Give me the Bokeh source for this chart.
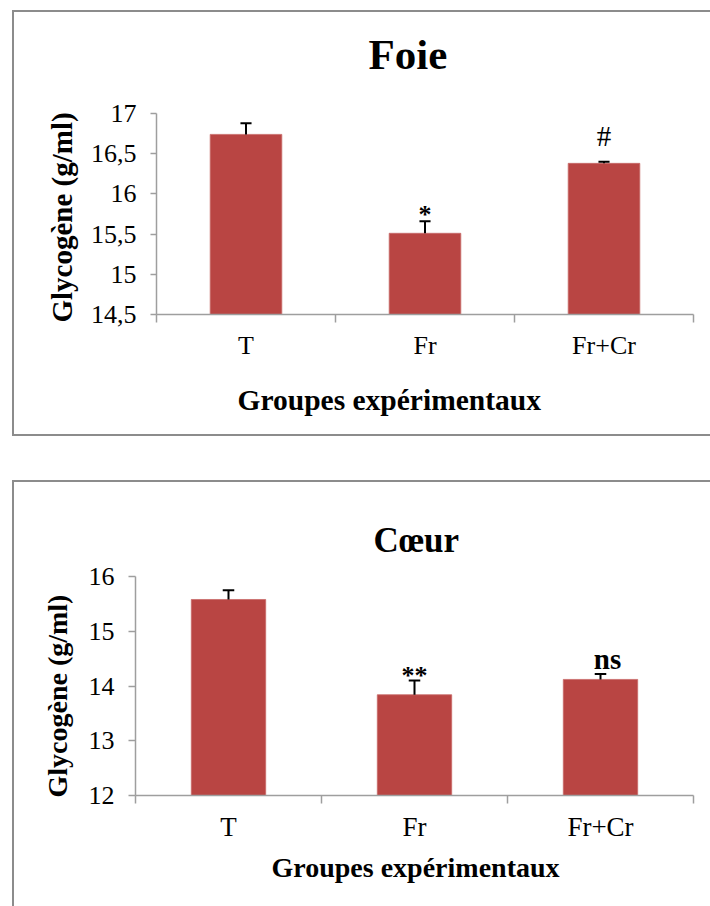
from bokeh.plotting import figure
from bokeh.models import Range1d, FixedTicker, Title
from bokeh.embed import file_html
from bokeh.resources import INLINE

# ---------------- data ----------------
groups = ["T", "Fr", "Fr+Cr"]

foie_values = [16.74, 15.51, 16.38]
foie_errors = [0.14, 0.15, 0.02]
foie_marks = ["", "*", "#"]
foie_ticks = [14.5, 15, 15.5, 16, 16.5, 17]
foie_tick_labels = ["14,5", "15", "15,5", "16", "16,5", "17"]

coeur_values = [15.58, 13.84, 14.12]
coeur_errors = [0.17, 0.26, 0.10]
coeur_marks = ["", "**", "ns"]
coeur_ticks = [12, 13, 14, 15, 16]
coeur_tick_labels = ["12", "13", "14", "15", "16"]

# ---------------- style ----------------
FONT = "Liberation Serif"
BAR = "#B94543"
AXIS = "#9e9e9e"
FRAME = "#8c8c8c"

MARK_STYLE = {
    "*": dict(size="26px", style="bold", dx=0, dy=-7),
    "#": dict(size="29px", style="normal", dx=0, dy=-26),
    "**": dict(size="26px", style="bold", dx=0, dy=-5),
    "ns": dict(size="29px", style="bold", dx=7, dy=-15),
}


def frame_css(left, top, bottom, width):
    g = f"linear-gradient({FRAME},{FRAME})"
    h = bottom - top
    w = width - left
    return {
        "background-image": f"{g}, {g}, {g}",
        "background-size": f"{w}px 2px, 2px {h}px, {w}px 2px",
        "background-position": f"{left}px {top}px, {left}px {top}px, {left}px {bottom}px",
        "background-repeat": "no-repeat",
    }


def panel(title, values, errors, marks, ticks, tick_labels, g):
    ymin, ymax = ticks[0], ticks[-1]
    n = len(groups)
    p = figure(width=710, height=g["h"], x_range=Range1d(0, n),
               y_range=Range1d(ymin, ymax), output_backend="svg",
               toolbar_location=None, title=None,
               min_border_left=g["ml"], min_border_right=g["mr"],
               min_border_top=g["mt"], min_border_bottom=g["mb"])
    p.outline_line_color = None
    p.xgrid.visible = False
    p.ygrid.visible = False
    p.background_fill_color = "white"
    p.border_fill_color = None
    p.styles = frame_css(g["fl"], g["ft"], g["fb"], 710)

    centers = [i + 0.5 for i in range(n)]
    bounds = list(range(n + 1))
    tops = [v + e for v, e in zip(values, errors)]

    p.vbar(x=centers, top=values, bottom=ymin, width=0.4,
           fill_color=BAR, line_color="#c86a68", line_width=0.8)
    # error bars (upper only)
    p.segment(x0=centers, y0=values, x1=centers, y1=tops,
              line_color="black", line_width=2)
    cap = 0.031
    p.segment(x0=[c - cap for c in centers], y0=tops,
              x1=[c + cap for c in centers], y1=tops,
              line_color="black", line_width=2)

    for c, t, m in zip(centers, tops, marks):
        if not m:
            continue
        s = MARK_STYLE[m]
        p.text(x=[c], y=[t], text=[m], text_align="center",
               text_baseline="alphabetic", x_offset=s["dx"], y_offset=s["dy"],
               text_font={"value": FONT}, text_font_size=s["size"],
               text_font_style=s["style"], text_color="black")

    # y axis
    ya = p.yaxis[0]
    ya.ticker = FixedTicker(ticks=ticks)
    ya.major_label_overrides = dict(zip(ticks, tick_labels))
    ya.axis_line_color = AXIS
    ya.axis_line_width = 1.5
    ya.major_tick_line_color = AXIS
    ya.major_tick_line_width = 1.5
    ya.major_tick_out = g["yto"]
    ya.major_tick_in = 0
    ya.minor_tick_line_color = None
    ya.major_label_text_font = FONT
    ya.major_label_text_font_size = "26px"
    ya.major_label_text_color = "black"
    ya.major_label_standoff = 14

    # x axis
    xa = p.xaxis[0]
    xa.ticker = FixedTicker(ticks=centers, minor_ticks=bounds)
    xa.major_label_overrides = dict(zip(centers, groups))
    xa.axis_line_color = AXIS
    xa.axis_line_width = 1.5
    xa.major_tick_line_color = None
    xa.major_tick_out = 8
    xa.major_tick_in = 0
    xa.minor_tick_line_color = AXIS
    xa.minor_tick_line_width = 1.5
    xa.minor_tick_out = 8
    xa.minor_tick_in = 0
    xa.major_label_text_font = FONT
    xa.major_label_text_font_size = g["cat_fs"]
    xa.major_label_text_color = "black"
    xa.major_label_standoff = 8

    # spacer between plot area and title (added first: closest to the plot)
    if g["sp"] > 0:
        p.add_layout(Title(text=" ", standoff=g["sp"], text_font_size="1px"), "above")

    t = Title(text=title, align="left", offset=g["t_off"], standoff=g["t_so"],
              text_font=FONT, text_font_size=g["t_fs"], text_font_style="bold",
              text_color="black")
    p.add_layout(t, "above")

    xl = Title(text="Groupes expérimentaux", align="left", offset=g["xl_off"],
               standoff=g["xl_so"], vertical_align="top",
               text_font=FONT, text_font_size=g["xl_fs"],
               text_font_style="bold", text_color="black")
    p.add_layout(xl, "below")

    yl = Title(text="Glycogène (g/ml)", align="left", offset=g["yl_off"],
               standoff=g["yl_so"], text_font=FONT, text_font_size=g["yl_fs"],
               text_font_style="bold", text_color="black")
    p.add_layout(yl, "left")
    return p


g1 = dict(h=458, ml=156, mr=17, mt=113, mb=144, yto=6, cat_fs="26px",
          sp=13, t_off=212, t_so=40, t_fs="43px",
          xl_off=81, xl_so=43, xl_fs="29.5px",
          yl_off=-8, yl_so=20, yl_fs="29px",
          fl=12, ft=10, fb=434)
g2 = dict(h=448, ml=135, mr=17, mt=118, mb=111, yto=7, cat_fs="27px",
          sp=0, t_off=238, t_so=33, t_fs="35px",
          xl_off=136, xl_so=14, xl_fs="28px",
          yl_off=-2, yl_so=25, yl_fs="28px",
          fl=12, ft=22, fb=470)

p1 = panel("Foie", foie_values, foie_errors, foie_marks, foie_ticks, foie_tick_labels, g1)
p2 = panel("Cœur", coeur_values, coeur_errors, coeur_marks, coeur_ticks, coeur_tick_labels, g2)

open("out.html", "w").write(file_html([p1, p2], INLINE))
